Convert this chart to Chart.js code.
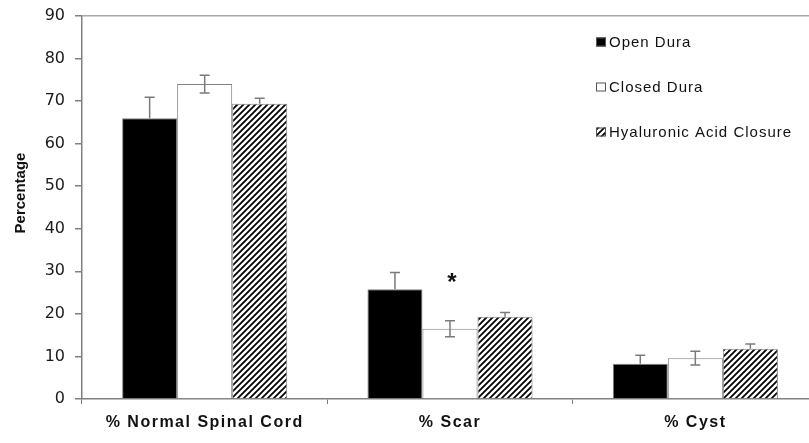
<!DOCTYPE html>
<html><head><meta charset="utf-8">
<script src="https://cdn.jsdelivr.net/npm/chart.js@4.4.1/dist/chart.umd.min.js"></script>
<style>html,body{margin:0;padding:0;background:#fff;overflow:hidden;width:809px;height:443px}canvas{display:block}</style>
</head><body><canvas id="c" width="820" height="443"></canvas>
<script>
// ---- data ----
const categories = ['% Normal Spinal Cord', '% Scar', '% Cyst'];
const seriesNames = ['Open Dura', 'Closed Dura', 'Hyaluronic Acid Closure'];
const openDura = [66.0, 25.8, 8.3];
const openDuraErr = [4.9, 3.9, 2.0];
const closedDura = [74.0, 16.5, 9.6];
const closedDuraErr = [2.1, 1.9, 1.6];
const hyaluronic = [69.4, 19.3, 11.8];
const hyaluronicErr = [1.3, 1.0, 1.1];
const yTickValues = [0, 10, 20, 30, 40, 50, 60, 70, 80, 90];
const yAxisTitle = 'Percentage';
const significantMarks = [{ category: 1, series: 1, text: '*' }];

const FONT = "'Liberation Sans', Arial, Helvetica, sans-serif";
const WIDE = "'DejaVu Sans', Verdana, sans-serif";

function makeHatch() {
  const p = document.createElement('canvas');
  p.width = 6; p.height = 6;
  const g = p.getContext('2d');
  g.fillStyle = '#fff'; g.fillRect(0, 0, 6, 6);
  g.strokeStyle = '#000'; g.lineWidth = 1.8;
  g.beginPath();
  g.moveTo(-1, 7); g.lineTo(7, -1);
  g.moveTo(-1, 1); g.lineTo(1, -1);
  g.moveTo(5, 7); g.lineTo(7, 5);
  g.stroke();
  return g.createPattern(p, 'repeat');
}
const hatch = makeHatch();

function spaced(Base, id, spacing) {
  class S extends Base {
    drawLabels(a) { const c = this.ctx; c.save(); c.letterSpacing = spacing; super.drawLabels(a); c.restore(); }
  }
  S.id = id; S.defaults = Base.defaults;
  return S;
}
Chart.register(spaced(Chart.CategoryScale, 'spacedCategory', '1.5px'));

const errorBars = {
  id: 'errorBars',
  afterDatasetsDraw(chart) {
    const ctx = chart.ctx, ys = chart.scales.y;
    chart.data.datasets.forEach((ds, i) => {
      const meta = chart.getDatasetMeta(i);
      meta.data.forEach((bar, j) => {
        const v = ds.data[j], e = ds.errors[j];
        const top = ys.getPixelForValue(v + e);
        const bot = ds.fullError ? ys.getPixelForValue(v - e) : bar.y;
        ctx.save();
        ctx.strokeStyle = '#7a7a7a'; ctx.lineWidth = 1.5;
        ctx.beginPath();
        ctx.moveTo(bar.x, top); ctx.lineTo(bar.x, bot);
        ctx.moveTo(bar.x - 5, top); ctx.lineTo(bar.x + 5, top);
        if (ds.fullError) { ctx.moveTo(bar.x - 5, bot); ctx.lineTo(bar.x + 5, bot); }
        ctx.stroke();
        ctx.restore();
      });
    });
  }
};

const marks = {
  id: 'marks',
  afterDatasetsDraw(chart) {
    const ctx = chart.ctx, ys = chart.scales.y;
    significantMarks.forEach(m => {
      const ds = chart.data.datasets[m.series];
      const bar = chart.getDatasetMeta(m.series).data[m.category];
      const top = ys.getPixelForValue(ds.data[m.category] + ds.errors[m.category]);
      ctx.save();
      ctx.fillStyle = '#111';
      ctx.font = 'bold 24px ' + FONT;
      ctx.textAlign = 'center'; ctx.textBaseline = 'middle';
      ctx.fillText(m.text, bar.x + 2, top - 37);
      ctx.restore();
    });
  }
};

const yTitle = {
  id: 'yTitle',
  afterDraw(chart) {
    const ctx = chart.ctx;
    ctx.save();
    ctx.translate(21, 193);
    ctx.rotate(-Math.PI / 2);
    ctx.fillStyle = '#111';
    ctx.font = 'bold 15px ' + FONT;
    ctx.textAlign = 'center'; ctx.textBaseline = 'middle';
    ctx.fillText(yAxisTitle, 0, 0);
    ctx.restore();
  }
};

const legendBox = {
  id: 'legendBox',
  afterDraw(chart) {
    const ctx = chart.ctx;
    const items = [
      { fill: '#000', y: 42 },
      { fill: '#fff', y: 87 },
      { fill: hatch, y: 132 }
    ];
    ctx.save();
    items.forEach((it, i) => {
      ctx.fillStyle = it.fill;
      ctx.fillRect(596, it.y - 4.5, 10, 9);
      ctx.strokeStyle = '#555'; ctx.lineWidth = 1;
      ctx.strokeRect(596.5, it.y - 4, 9, 8);
      ctx.fillStyle = '#111';
      ctx.font = '15px ' + FONT;
      ctx.letterSpacing = '1px';
      ctx.textAlign = 'left'; ctx.textBaseline = 'middle';
      ctx.fillText(seriesNames[i], 609, it.y + 1);
      ctx.letterSpacing = '0px';
    });
    ctx.restore();
  }
};

new Chart(document.getElementById('c'), {
  type: 'bar',
  data: {
    labels: categories,
    datasets: [
      { label: seriesNames[0], data: openDura, errors: openDuraErr, fullError: false,
        backgroundColor: '#000', borderColor: '#808080', borderWidth: 1 },
      { label: seriesNames[1], data: closedDura, errors: closedDuraErr, fullError: true,
        backgroundColor: '#fff', borderColor: '#808080', borderWidth: 1 },
      { label: seriesNames[2], data: hyaluronic, errors: hyaluronicErr, fullError: false,
        backgroundColor: hatch, borderColor: '#808080', borderWidth: 1 }
    ]
  },
  options: {
    responsive: false,
    animation: false,
    events: [],
    layout: { padding: { top: 16, right: 2, left: 0, bottom: 0 } },
    datasets: { bar: { categoryPercentage: 0.673, barPercentage: 1.0 } },
    plugins: { legend: { display: false }, tooltip: { enabled: false } },
    scales: {
      x: {
        type: 'spacedCategory',
        grid: { display: true, drawOnChartArea: false, offset: true, color: '#808080', tickColor: '#808080', tickLength: 5 },
        border: { display: true, color: '#808080', width: 1.5 },
        ticks: { color: '#111', font: { family: FONT, size: 16, weight: 'bold' }, padding: 9, maxRotation: 0 },
        afterFit: s => { s.height = 44; s.paddingLeft = 0; s.paddingRight = 0; }
      },
      y: {
        min: 0, max: 90,
        afterBuildTicks: s => { s.ticks = yTickValues.map(v => ({ value: v })); },
        grid: {
          color: c => (c.tick && c.tick.value === 90) ? '#a8a8a8' : 'rgba(0,0,0,0)',
          lineWidth: 1.5,
          tickColor: '#808080', tickLength: 7
        },
        border: { display: true, color: '#808080', width: 1.5 },
        ticks: { color: '#1a1a1a', font: { family: WIDE, size: 16 }, padding: 10 },
        afterFit: s => { s.width = 82; s.paddingTop = 0; s.paddingBottom = 0; }
      }
    }
  },
  plugins: [errorBars, marks, yTitle, legendBox]
});
</script>
</body></html>
